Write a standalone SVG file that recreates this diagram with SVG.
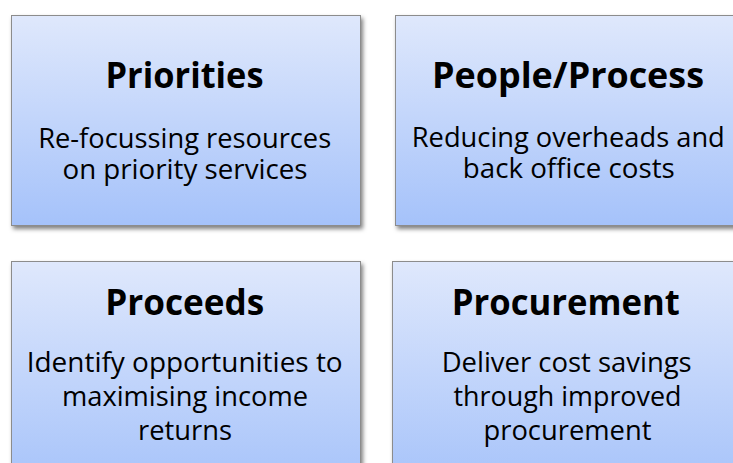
<svg xmlns="http://www.w3.org/2000/svg" width="733" height="463" viewBox="0 0 733 463">
  <defs>
    <linearGradient id="boxFill" x1="0" y1="0" x2="0" y2="1">
      <stop offset="0" stop-color="#dfe8fc"/>
      <stop offset="1" stop-color="#a5c2fa"/>
    </linearGradient>
    <filter id="shadow" x="-5%" y="-5%" width="115%" height="120%">
      <feDropShadow dx="2" dy="3" stdDeviation="2" flood-color="#000" flood-opacity="0.5"/>
    </filter>
  </defs>
  <style>
    .box { fill: url(#boxFill); stroke: #8c8c8c; stroke-width: 1; filter: url(#shadow); }
    .title { font-family: "Open Sans", "Liberation Sans", sans-serif; font-weight: bold; font-size: 35px; fill: #000; text-anchor: middle; }
    .body { font-family: "Open Sans", "Liberation Sans", sans-serif; font-size: 27px; fill: #000; text-anchor: middle; }
  </style>
  <rect width="733" height="463" fill="#fff"/>
  <g id="connectors"/>
  <g id="priorities">
    <rect class="box" x="11.5" y="15.5" width="349" height="210"/>
    <text class="title" x="184.5" y="88" textLength="158" lengthAdjust="spacingAndGlyphs">Priorities</text>
    <text class="body" x="184.7" y="148" textLength="293" lengthAdjust="spacingAndGlyphs">Re-focussing resources</text>
    <text class="body" x="185" y="178.5" textLength="245" lengthAdjust="spacingAndGlyphs">on priority services</text>
  </g>
  <g id="people-process">
    <rect class="box" x="395.5" y="15.5" width="350" height="210"/>
    <text class="title" x="568" y="88.3" textLength="272" lengthAdjust="spacingAndGlyphs">People/Process</text>
    <text class="body" x="568.3" y="147" textLength="313" lengthAdjust="spacingAndGlyphs">Reducing overheads and</text>
    <text class="body" x="568.8" y="178" textLength="212" lengthAdjust="spacingAndGlyphs">back office costs</text>
  </g>
  <g id="proceeds">
    <rect class="box" x="11.5" y="261.5" width="349" height="230"/>
    <text class="title" x="184.7" y="315" textLength="159" lengthAdjust="spacingAndGlyphs">Proceeds</text>
    <text class="body" x="184.7" y="372" textLength="316" lengthAdjust="spacingAndGlyphs">Identify opportunities to</text>
    <text class="body" x="185" y="406" textLength="246" lengthAdjust="spacingAndGlyphs">maximising income</text>
    <text class="body" x="185" y="440" textLength="94" lengthAdjust="spacingAndGlyphs">returns</text>
  </g>
  <g id="procurement">
    <rect class="box" x="392.5" y="261.5" width="350" height="230"/>
    <text class="title" x="565.8" y="315" textLength="228" lengthAdjust="spacingAndGlyphs">Procurement</text>
    <text class="body" x="566.7" y="372" textLength="250" lengthAdjust="spacingAndGlyphs">Deliver cost savings</text>
    <text class="body" x="567.5" y="406" textLength="228" lengthAdjust="spacingAndGlyphs">through improved</text>
    <text class="body" x="567.5" y="440" textLength="168" lengthAdjust="spacingAndGlyphs">procurement</text>
  </g>
</svg>
